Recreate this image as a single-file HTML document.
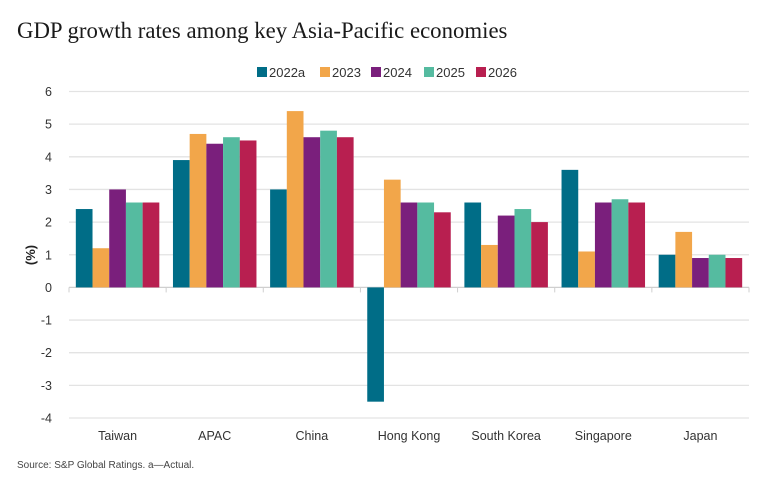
<!DOCTYPE html>
<html><head><meta charset="utf-8"><style>
body{margin:0;background:#fff;width:765px;height:484px;overflow:hidden;font-family:"Liberation Sans",sans-serif}
svg text{font-family:"Liberation Sans",sans-serif}
</style></head><body>
<svg id="chart" width="765" height="484" xmlns="http://www.w3.org/2000/svg">
<text x="17" y="38" font-family="Liberation Serif" style="font-family:'Liberation Serif',serif" font-size="22.8" fill="#1a1a1a">GDP growth rates among key Asia-Pacific economies</text>
<g id="grid"></g><g id="bars"></g><g id="axes"></g><g id="legend"></g>
<text transform="translate(35,255) rotate(-90)" text-anchor="middle" font-size="13" font-weight="bold" fill="#222">(%)</text>
<text x="17" y="468" font-size="10" fill="#444">Source: S&amp;P Global Ratings. a—Actual.</text>
</svg>
<script>
const categories=["Taiwan","APAC","China","Hong Kong","South Korea","Singapore","Japan"];
const seriesNames=["2022a","2023","2024","2025","2026"];
const s2022=[2.4,3.9,3.0,-3.5,2.6,3.6,1.0];
const s2023=[1.2,4.7,5.4,3.3,1.3,1.1,1.7];
const s2024=[3.0,4.4,4.6,2.6,2.2,2.6,0.9];
const s2025=[2.6,4.6,4.8,2.6,2.4,2.7,1.0];
const s2026=[2.6,4.5,4.6,2.3,2.0,2.6,0.9];
const yTicks=[6,5,4,3,2,1,0,-1,-2,-3,-4];
const series=[s2022,s2023,s2024,s2025,s2026];
const colors=["#006d87","#f2a64a","#7a1f7c","#55bba0","#b81f50"];
const NS="http://www.w3.org/2000/svg";
const x0=69,x1=749,yMax=6,yMin=-4,yTop=91.5,yBot=418;
const y=v=>yTop+(yMax-v)*(yBot-yTop)/(yMax-yMin);
const cw=(x1-x0)/categories.length, bw=16.7, pad=(cw-bw*5)/2;
function mk(t,a,p){const e=document.createElementNS(NS,t);for(const k in a)e.setAttribute(k,a[k]);p.appendChild(e);return e;}
const grid=document.getElementById('grid'),bars=document.getElementById('bars'),axes=document.getElementById('axes'),leg=document.getElementById('legend');
yTicks.forEach(v=>{
 const l=mk('line',{x1:x0,x2:x1,y1:y(v),y2:y(v),stroke:v===0?'#cfcfcf':'#e3e3e3','stroke-width':1.3},grid);
 
 
 const t=mk('text',{x:52,y:y(v)+4.5,'text-anchor':'end','font-size':12.5,fill:'#333'},axes);
 t.textContent=v;
 
 
});
for(let i=0;i<=categories.length;i++){
 const l=mk('line',{x1:x0+i*cw,x2:x0+i*cw,y1:y(0),y2:y(0)+5,stroke:'#cfcfcf','stroke-width':1},axes);
 
 
}
categories.forEach((c,i)=>{
 const t=mk('text',{x:x0+cw*(i+0.5),y:440,'text-anchor':'middle','font-size':12.5,fill:'#333'},axes);
 t.textContent=c;
 
 
 series.forEach((s,j)=>{
  const v=s[i],yy=Math.min(y(v),y(0)),h=Math.abs(y(v)-y(0));
  const r=mk('rect',{x:x0+i*cw+pad+j*bw,y:yy,width:bw,height:h,fill:colors[j]},bars);
  
  
 });
});
const lx=[257,320,371,424,476];
seriesNames.forEach((n,j)=>{
 const g=mk('g',{},leg);
 
 
 mk('rect',{x:lx[j],y:67,width:10,height:10,fill:colors[j]},g);
 const t=mk('text',{x:lx[j]+12,y:77,'font-size':13,fill:'#333'},g);
 t.textContent=n;
});
</script>
</body></html>
